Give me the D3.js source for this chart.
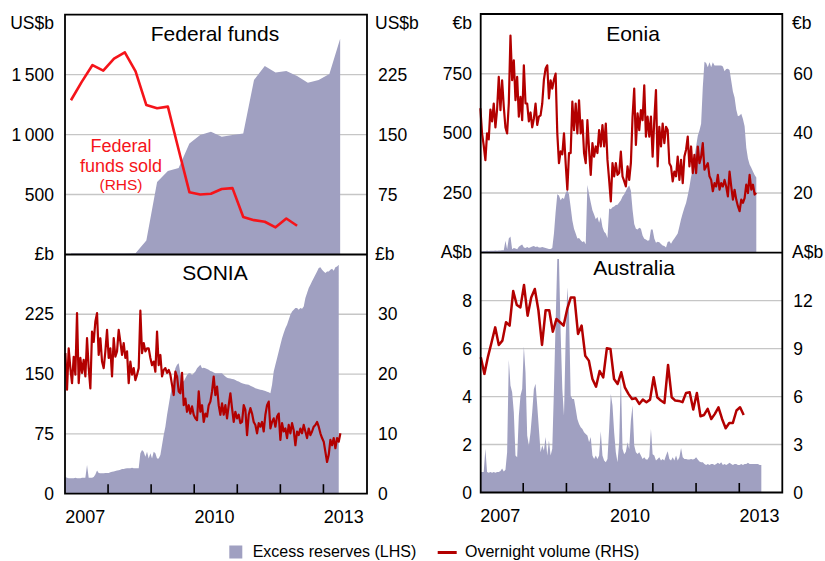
<!DOCTYPE html>
<html>
<head>
<meta charset="utf-8">
<script src="https://cdn.jsdelivr.net/npm/d3@7/dist/d3.min.js"></script>
<style>
  body { margin: 0; background: #fff; }
  svg { display: block; }
  text { font-family: "Liberation Sans", Arial, Helvetica, sans-serif; fill: #000; }
</style>
</head>
<body>
<svg id="chart" width="825" height="561"></svg>
<script>
// ---------------- DATA ----------------
const panelTitles = ["Federal funds", "Eonia", "SONIA", "Australia"];
const units = ["US$b", "€b", "£b", "A$b"];
const yearLabels = [2007, 2010, 2013];
const yearTicks = [2008, 2009, 2010, 2011, 2012, 2013];

// Federal funds: quarterly observations (mid-quarter), US$b
const fedStart = 2007.15, fedStep = 0.25;
const fedReserves = [8, 8, 8, 8, 8, 8, 10, 117, 605, 697, 722, 926, 996, 1024, 982, 996, 1010, 1456, 1573, 1517, 1531, 1489, 1433, 1456, 1506, 1799];
const fedFundsSold = [193, 216, 237, 230, 245, 253, 229, 187, 183, 185, 131, 78, 75, 76, 82, 83, 47, 43, 41, 34, 45, 36];

// Fortnightly observations for Eonia and SONIA, Australian reserves
const obsStart = 2007.02, obsStep = 0.0387;

const eoniaReserves = [
  6, 6, 7, 7, 8, 7, 8, 8, 8, 9, 8, 9, 9, 10, 10, 50, 14, 60, 68, 14,
  20, 18, 14, 25, 30, 34, 22, 20, 24, 20, 23, 26, 28, 24, 26, 22, 22, 24, 22, 20,
  18, 16, 16, 20, 80, 170, 245, 240, 220, 230, 225, 250, 262, 245, 190, 135, 100, 80, 60, 62,
  52, 45, 48, 35, 284, 245, 210, 178, 160, 140, 150, 125, 150, 108, 88, 80, 62, 185, 182, 190,
  194, 200, 201, 210, 220,
  235, 245, 258, 272, 282, 260, 180, 120, 100, 97, 105, 100, 72, 58, 55, 50, 52, 97, 97, 60,
  42, 46, 44, 36, 30, 28, 22, 45, 48, 38, 50, 60, 70, 80, 110, 140, 165, 188, 208, 240,
  275, 318, 350, 400, 445, 490, 512, 540, 694, 800, 795, 777, 798, 777, 798, 784, 784, 784, 784, 784,
  780, 760, 770, 771, 765, 720, 675, 650, 600, 572, 575, 582, 560, 530, 440, 395, 370, 356, 340, 325,
  315];
const eoniaVolume = [
  48.4, 40, 36, 31, 40, 38, 48, 44, 50, 42, 48, 58.9, 47.8, 57.8, 48.9, 42, 40, 50, 72.8, 57.8,
  64.5, 51.1, 58.9, 45.6, 52.2, 44.4, 62.8, 50, 50, 44, 47, 42, 45, 50, 42.8, 45.6, 46, 50, 58, 61.7,
  62.8, 51.7, 57.8, 55, 58, 60, 40, 30, 34, 33, 40, 30, 21.1, 33.4, 33.4, 50.6, 41.1, 50, 40, 51.1,
  40, 44.4, 33.4, 30, 44.4, 34.5, 26.1, 36.7, 32.2, 35.6, 33.4, 41.1, 35.6, 42.8, 35.6, 43.3, 31.1, 24.4, 17.2, 30,
  25.6, 30, 26.1, 26.7, 33.9,
  25.6, 24, 22.2, 28.9, 24.4, 30, 45.6, 55, 36.1, 46.7, 41.1, 47.8, 44.4, 56.1, 38.9, 45.6, 38.9, 45.6, 32.2, 44.4,
  54.5, 28.9, 42.2, 35.6, 43.3, 36.7, 42.2, 41.1, 30, 28.9, 23.9, 27.2, 25.6, 32.2, 24.4, 31.1, 23.3, 32.2, 34.5, 38.9,
  28.9, 35.6, 26.7, 32.8, 26.7, 35.6, 30, 32.2, 36.7, 27.8, 28.9, 30, 25.6, 24.4, 20.6, 23.3, 22.2, 26.1, 21.1, 23.3,
  22.2, 24.4, 22.2, 18.9, 27.2, 22.2, 17.8, 21.1, 17.8, 15.6, 13.9, 17.8, 16.7, 18.3, 22.8, 20, 26.1, 21.1, 22.8, 19.5,
  20];

const soniaReserves = [
  21, 20, 19.5, 19.5, 19.5, 19.5, 20, 19.5, 19.5, 19.5, 20, 20, 20, 36, 20, 20, 20, 21, 24, 29,
  26, 25.5, 25.5, 25.5, 26, 26, 26, 27, 27.5, 28, 28.5, 29, 29.5, 30, 31, 31, 31.5, 31.8, 31.8, 32,
  32.6, 32, 32, 31.8, 31.8, 50.6, 54.8, 52.7, 46.4, 52.7, 44.3, 50.6, 44.3, 52.7, 50.6, 44.3, 44.3, 48.5, 61, 73.6,
  84, 98.8, 111.3, 123.9, 134.4, 144.8, 157.4, 161.6, 163.7, 151.1, 142.7, 140.6, 144.8, 149, 151.1, 151.1, 149, 151.1, 153.2, 157.4,
  159.5, 161.6, 157.4,
  158, 157.4, 156.5, 155.3, 154, 153.2, 152, 151.1, 151.1, 151.1, 151, 151.1, 149, 146.9, 145.5, 144.8, 144.5, 144, 143.5, 142.7,
  141.5, 140.6, 139.5, 138.5, 138, 137.3, 137, 136.5, 135.5, 134.4, 133.5, 132.3, 131.5, 131, 130.5, 130.2, 129.5, 128.9, 128, 127.2,
  126, 136.5, 153.2, 161.6, 170, 178.3, 186.7, 195.1, 201.4, 207.6, 211.8, 218.1, 224.4, 228.6, 230.7, 232.8, 232.8, 230.7, 232.8, 232,
  234.9, 245.3, 251.6, 257.9, 262.1, 266.3, 270.5, 274.7, 278.8, 283, 283.9, 281, 278.8, 276.8, 278.8, 278.8, 281, 282.2, 279.7, 283.9,
  285.1, 287.2];
const soniaVolume = [
  23.5, 17.4, 24.3, 21, 18.5, 22.9, 19.9, 30.2, 18.5, 22.7, 20.2, 22.4, 19.6, 26, 21, 17.6, 27.1, 25.4, 28.8, 30.2,
  23.2, 26, 22.1, 21, 23.8, 27.4, 22.7, 24.3, 19.6, 26, 22.9, 23.8, 27.4, 25.4, 23.2, 25.2, 22.7, 23.8, 18.5, 22.1,
  19.9, 21, 19, 19.9, 21, 30.6, 23.5, 25.2, 23.8, 24.3, 24.3, 22.7, 21.5, 22.1, 20.4, 27.1, 21.5, 23.2, 19.6, 20.7,
  21, 20.2, 20.7, 19.9, 18.2, 16.5, 20.4, 19.6, 17.1, 16.8, 20.2, 14.8, 15.9, 13.7, 14.8, 13.4, 14.6, 13.2, 12.6, 12.3,
  17.1, 13.7, 14.8,
  12, 13.4, 12.9, 14.8, 15.4, 17.1, 19.6, 16.5, 17.9, 14.8, 13.2, 15.1, 13.2, 14.8, 12.6, 14.8, 16.8, 14.3, 12, 13.7,
  12.6, 13.2, 11.8, 12, 14.8, 14, 9.8, 13.2, 14.3, 13.4, 12, 11.5, 10.1, 11.8, 11.2, 12, 10.4, 13.2, 14.8, 15.4,
  10.9, 12, 12.6, 11.2, 12.9, 13.4, 9, 11.8, 10.4, 10.9, 9.3, 11.5, 10.1, 11.8, 10.6, 8.1, 10.4, 9.8, 10.9, 10.1,
  11.5, 10.4, 9.3, 10.9, 9.8, 10.4, 11.2, 11.5, 12, 11.2, 10.1, 9.3, 8.7, 7, 5.3, 6.5, 9, 8.1, 9.3, 7.6,
  9.3, 8.7, 10.1];

const ausReserves = [
  0.85, 0.85, 0.85, 1.82, 0.85, 0.82, 0.85, 0.82, 0.85, 0.82, 0.85, 0.85, 0.9, 1.0, 0.88, 0.95, 1.68, 5.54, 4.46, 4.18,
  3.35, 1.54, 1.47, 3.2, 4.04, 4.32, 6.1, 5.0, 2.38, 1.96, 2.51, 3.35, 4.32, 4.53, 3.63, 2.65, 1.68, 1.96, 1.75, 2.31,
  1.54, 2.17, 1.54, 1.82, 4.32, 7.1, 9.74, 9.74, 6.68, 4.32, 3.2, 6.4, 8.56, 7.5, 4.04, 3.9, 3.9, 3.49, 3.07, 2.86,
  2.72, 2.65, 2.51, 2.44, 2.38, 2.1, 2.31, 1.54, 1.4, 1.54, 1.4, 1.54, 2.55, 1.54, 1.33, 1.26, 1.4, 2.65, 4.11, 3.63,
  2.51, 1.68, 1.26, 2.1, 4.9,
  1.82, 1.6, 1.7, 2.1, 1.8, 3.0, 3.63, 1.96, 1.68, 1.61, 1.68, 1.54, 1.4, 1.47, 1.375, 1.375, 1.5, 2.65, 1.6, 1.54,
  1.33, 1.4, 1.47, 1.33, 1.4, 1.33, 1.54, 1.72, 1.4, 1.33, 1.47, 1.33, 1.54, 1.33, 1.47, 1.86, 1.47, 1.4, 1.4, 1.375,
  1.375, 1.4, 1.375, 1.4, 1.47, 1.375, 1.29, 1.26, 1.26, 1.19, 1.15, 1.19, 1.15, 1.19, 1.19, 1.15, 1.19, 1.24, 1.19, 1.26,
  1.15, 1.19, 1.15, 1.19, 1.24, 1.19, 1.15, 1.19, 1.19, 1.15, 1.15, 1.19, 1.15, 1.19, 1.19, 1.24, 1.19, 1.19, 1.19, 1.19,
  1.19, 1.19, 1.15, 1.15];
// Australia overnight volume: monthly, A$b
const ausMonthStart = 2007.03, ausMonthStep = 1 / 12;
const ausVolume = [
  8.46, 7.42, 8.5, 9.4, 10.33, 9.23, 9.5, 10.65, 10.44, 12.6, 11.73, 11.58, 12.98, 11.06, 12.2, 12.73, 11.4, 9.23, 11.4, 11.4,
  10.06, 10.85, 10.65, 10.44, 11.48, 12.2, 12.2, 9.92, 10.44, 8.56, 8.25, 7.1, 6.62, 7.6, 7.2, 9.02, 8.98, 7.1, 6.79, 7.52,
  6.58, 6.17, 5.85, 5.9, 5.54, 5.81, 5.65, 5.81, 7.21, 5.96, 5.75, 5.6, 7.98, 5.96, 5.75, 5.73, 5.65, 6.23, 6.27, 5.19,
  6.23, 4.77, 4.85, 5.23, 4.6, 4.92, 5.33, 4.6, 4.02, 4.35, 4.35, 5.13, 5.33, 4.85];

// Axis ticks
const fedLeftTicks = [500, 1000, 1500], fedRightTicks = [75, 150, 225];
const eoniaLeftTicks = [250, 500, 750], eoniaRightTicks = [20, 40, 60];
const soniaLeftTicks = [0, 75, 150, 225], soniaRightTicks = [0, 10, 20, 30];
const ausLeftTicks = [0, 2, 4, 6, 8], ausRightTicks = [0, 3, 6, 9, 12];

// ---------------- STYLE ----------------
const AREA = "#a0a0c1", DARKRED = "#b30000", RED = "#f5141a", GRID = "#c6c6c6";
const FONT = "'Liberation Sans', Arial, Helvetica, sans-serif";
const svg = d3.select("#chart");
const fmt = d3.formatLocale({decimal: ".", thousands: "\u2009", grouping: [3], currency: ["", ""]}).format(",");

const series = (vals, start, step) => vals.map((v, i) => ({t: start + i * step, v}));

// Columns
const cols = [
  {x: d3.scaleLinear().domain([2007, 2014]).range([64.5, 366]), x0: 65, x1: 367, top: 14.7, mid: 254.5, bot: 493.7,
   lPad: 11, rPad: 11, unitL: 54, unitR: 375},
  {x: d3.scaleLinear().domain([2007, 2014]).range([479.5, 782]), x0: 480.7, x1: 782.3, top: 14, mid: 252.7, bot: 492.5,
   lPad: 8.7, rPad: 11, unitL: 472, unitR: 792}
];

const panels = [
  {col: 0, pos: "top", title: panelTitles[0], unit: units[0], lDom: [0, 2000], rDom: [0, 300],
   lTicks: fedLeftTicks, rTicks: fedRightTicks, grid: fedLeftTicks,
   area: series(fedReserves, fedStart, fedStep), line: series(fedFundsSold, fedStart, fedStep),
   lineColor: RED, lineWidth: 2.6, titleX: 215, titleY: 40.7},
  {col: 1, pos: "top", title: panelTitles[1], unit: units[1], lDom: [0, 1000], rDom: [0, 80],
   lTicks: eoniaLeftTicks, rTicks: eoniaRightTicks, grid: eoniaLeftTicks,
   area: series(eoniaReserves, obsStart, obsStep), line: series(eoniaVolume, obsStart, obsStep),
   lineColor: DARKRED, lineWidth: 2.2, titleX: 633, titleY: 40.7},
  {col: 0, pos: "bot", title: panelTitles[2], unit: units[2], lDom: [0, 300], rDom: [0, 40],
   lTicks: soniaLeftTicks, rTicks: soniaRightTicks, grid: [75, 150, 225],
   area: series(soniaReserves, obsStart, obsStep), line: series(soniaVolume, obsStart, obsStep),
   lineColor: DARKRED, lineWidth: 2.2, titleX: 215, titleY: 279.7},
  {col: 1, pos: "bot", title: panelTitles[3], unit: units[3], lDom: [0, 10], rDom: [0, 15],
   lTicks: ausLeftTicks, rTicks: ausRightTicks, grid: [2, 4, 6, 8],
   area: series(ausReserves, obsStart, obsStep), line: series(ausVolume, ausMonthStart, ausMonthStep),
   lineColor: DARKRED, lineWidth: 2.5, titleX: 634, titleY: 275}
];

function styleAxis(g, size) {
  g.select(".domain").remove();
  g.attr("font-family", FONT).attr("font-size", size);
  g.selectAll("text").attr("fill", "#000");
}

panels.forEach(p => {
  const c = cols[p.col];
  const yTop = p.pos === "top" ? c.top : c.mid;
  const yBot = p.pos === "top" ? c.mid : c.bot;
  const yL = d3.scaleLinear().domain(p.lDom).range([yBot, yTop]);
  const yR = d3.scaleLinear().domain(p.rDom).range([yBot, yTop]);
  const g = svg.append("g");

  // gridlines
  g.selectAll("line.grid").data(p.grid).join("line")
    .attr("x1", c.x0).attr("x2", c.x1)
    .attr("y1", d => yL(d)).attr("y2", d => yL(d))
    .attr("stroke", GRID).attr("stroke-width", 1.4);

  // area (LHS)
  g.append("path").datum(p.area)
    .attr("fill", AREA)
    .attr("d", d3.area().x(d => c.x(d.t)).y0(yL(0)).y1(d => yL(d.v)));

  // line (RHS)
  g.append("path").datum(p.line)
    .attr("fill", "none").attr("stroke", p.lineColor).attr("stroke-width", p.lineWidth)
    .attr("stroke-linejoin", "round")
    .attr("d", d3.line().x(d => c.x(d.t)).y(d => yR(d.v)));

  // axes
  const la = svg.append("g").attr("transform", `translate(${c.x0},0)`)
    .call(d3.axisLeft(yL).tickValues(p.lTicks).tickSize(0).tickPadding(c.lPad).tickFormat(fmt));
  styleAxis(la, 17.5);
  const ra = svg.append("g").attr("transform", `translate(${c.x1},0)`)
    .call(d3.axisRight(yR).tickValues(p.rTicks).tickSize(0).tickPadding(c.rPad).tickFormat(fmt));
  styleAxis(ra, 17.5);

  // units
  const uy = p.pos === "top" ? 28.8 : yTop + 5.5;
  svg.append("text").attr("x", c.unitL).attr("y", uy).attr("text-anchor", "end")
    .attr("font-size", 17.5).text(p.unit);
  svg.append("text").attr("x", c.unitR).attr("y", uy).attr("text-anchor", "start")
    .attr("font-size", 17.5).text(p.unit);

  // title
  svg.append("text").attr("x", p.titleX).attr("y", p.titleY).attr("text-anchor", "middle")
    .attr("font-size", 21).text(p.title);
});

// Federal funds annotation
const ann = svg.append("g").attr("fill", RED);
[["Federal", 151.7, 18], ["funds sold", 171.7, 18], ["(RHS)", 190.3, 15.5]].forEach(([t, y, s]) => {
  ann.append("text").attr("x", 121).attr("y", y).attr("text-anchor", "middle")
    .attr("font-size", s).style("fill", RED).text(t);
});

// frames, x ticks and year labels
cols.forEach(c => {
  svg.append("path")
    .attr("d", `M${c.x0},${c.top}H${c.x1}V${c.bot}H${c.x0}Z M${c.x0},${c.mid}H${c.x1}`)
    .attr("fill", "none").attr("stroke", "#000").attr("stroke-width", 1.8);
  const ta = svg.append("g").attr("transform", `translate(0,${c.bot})`)
    .call(d3.axisBottom(c.x).tickValues(yearTicks).tickSizeInner(-9.5).tickSizeOuter(0).tickFormat(""));
  ta.select(".domain").remove();
  ta.selectAll("line").attr("stroke", "#000").attr("stroke-width", 1.6);
  const la = svg.append("g").attr("transform", `translate(0,${c.bot})`)
    .call(d3.axisBottom(c.x).tickValues(yearLabels.map(y => y + 0.47)).tickSize(0).tickPadding(16.5)
      .tickFormat(d => String(Math.floor(d))));
  styleAxis(la, 18);
});

// legend
const lg = svg.append("g");
lg.append("rect").attr("x", 229.3).attr("y", 545.5).attr("width", 13).attr("height", 13).attr("fill", AREA);
lg.append("text").attr("x", 252.7).attr("y", 557.3).attr("font-size", 16).text("Excess reserves (LHS)");
lg.append("line").attr("x1", 437.7).attr("x2", 456.7).attr("y1", 552.5).attr("y2", 552.5)
  .attr("stroke", DARKRED).attr("stroke-width", 3);
lg.append("text").attr("x", 465).attr("y", 557.3).attr("font-size", 16).text("Overnight volume (RHS)");
</script>
</body>
</html>
